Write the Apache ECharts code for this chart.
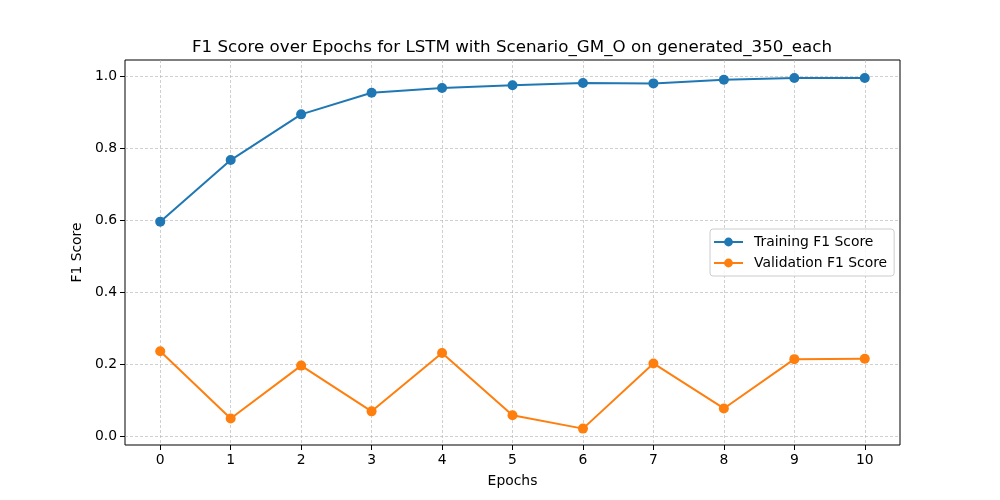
<!DOCTYPE html>
<html>
<head>
<meta charset="utf-8">
<script src="https://cdn.jsdelivr.net/npm/echarts@6/dist/echarts.min.js"></script>
<style>
  html, body { margin: 0; padding: 0; background: #fff; }
  #chart { width: 1000px; height: 500px; }
</style>
</head>
<body>
<div id="chart"></div>
<script>
// data
var epochs = [0, 1, 2, 3, 4, 5, 6, 7, 8, 9, 10];
var trainF1 = [0.596, 0.767, 0.894, 0.954, 0.967, 0.975, 0.981, 0.980, 0.990, 0.995, 0.995];
var valF1 = [0.236, 0.049, 0.196, 0.069, 0.231, 0.058, 0.021, 0.202, 0.077, 0.214, 0.215];
var yTicks = [0, 0.2, 0.4, 0.6, 0.8, 1.0];

var font = 'DejaVu Sans';
var myChart = echarts.init(document.getElementById('chart'));

function pairs(ys) {
    return epochs.map(function (x, i) { return [x, ys[i]]; });
}

myChart.setOption({
    animation: false,
    title: {
        text: 'F1 Score over Epochs for LSTM with Scenario_GM_O on generated_350_each',
        left: 507,
        textAlign: 'center',
        top: 34,
        textStyle: { fontFamily: font, fontSize: 16.7, fontWeight: 'normal', color: '#000' }
    },
    grid: {
        left: 125, right: 100, top: 60, bottom: 55,
        show: true, borderColor: '#000', borderWidth: 1, backgroundColor: 'transparent'
    },
    legend: {
        orient: 'vertical',
        left: 710, top: 229,
        padding: [6, 7, 6, 3],
        itemGap: 7,
        itemWidth: 29, itemHeight: 11,
        borderColor: '#cccccc', borderWidth: 1, borderRadius: 3,
        backgroundColor: 'rgba(255,255,255,0.8)',
        textStyle: { fontFamily: font, fontSize: 13.9, color: '#000', padding: [0, 0, 0, 6] },
        data: ['Training F1 Score', 'Validation F1 Score']
    },
    xAxis: {
        type: 'value',
        min: -0.5, max: 10.5,
        name: 'Epochs',
        nameLocation: 'middle',
        nameGap: 29,
        nameTextStyle: { fontFamily: font, fontSize: 13.9, color: '#000' },
        axisLine: { show: false, onZero: false },
        axisTick: { show: true, inside: false, length: 5, customValues: epochs, lineStyle: { color: '#000' } },
        axisLabel: { customValues: epochs, fontFamily: font, fontSize: 13.9, color: '#000', margin: 8 },
        splitLine: { show: true, lineStyle: { type: [3, 2], color: '#b0b0b0', width: 0.6 } }
    },
    yAxis: {
        type: 'value',
        min: -0.0245, max: 1.045,
        name: 'F1 Score',
        nameLocation: 'middle',
        nameGap: 38,
        nameTextStyle: { fontFamily: font, fontSize: 13.9, color: '#000' },
        axisLine: { show: false, onZero: false },
        axisTick: { show: true, inside: false, length: 5, customValues: yTicks, lineStyle: { color: '#000' } },
        axisLabel: {
            customValues: yTicks, fontFamily: font, fontSize: 13.9, color: '#000', margin: 8,
            formatter: function (v) { return v.toFixed(1); }
        },
        splitLine: { show: true, lineStyle: { type: [3, 2], color: '#b0b0b0', width: 0.6 } }
    },
    series: [
        {
            name: 'Training F1 Score',
            type: 'line',
            data: pairs(trainF1),
            symbol: 'circle', symbolSize: 10,
            color: '#1f77b4',
            lineStyle: { width: 2 },
            itemStyle: { color: '#1f77b4' }
        },
        {
            name: 'Validation F1 Score',
            type: 'line',
            data: pairs(valF1),
            symbol: 'circle', symbolSize: 10,
            color: '#ff7f0e',
            lineStyle: { width: 2 },
            itemStyle: { color: '#ff7f0e' }
        }
    ]
});
</script>
</body>
</html>
